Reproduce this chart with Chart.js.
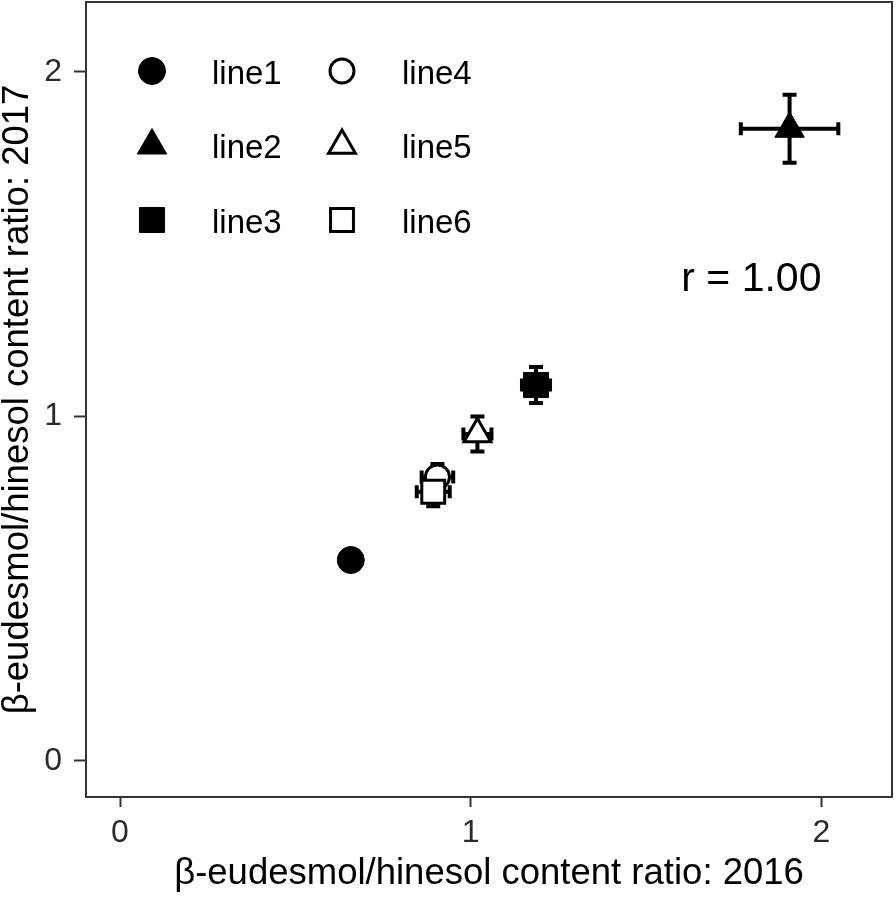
<!DOCTYPE html>
<html>
<head>
<meta charset="utf-8">
<script src="https://cdn.jsdelivr.net/npm/chart.js@4.4.0/dist/chart.umd.min.js"></script>
<style>
    html, body { margin: 0; padding: 0; background: #fff; }
    #wrap { width: 896px; height: 897px; position: relative; }
</style>
</head>
<body>
<div id="wrap"><canvas id="ratioChart"></canvas></div>
<script>
// values (mean +/- error)
const lineNames = ['line1', 'line2', 'line3', 'line4', 'line5', 'line6'];
const ratio2016 = [0.658, 1.909, 1.186, 0.905, 1.019, 0.893];
const ratio2016Err = [0.02, 0.139, 0.04, 0.045, 0.04, 0.047];
const ratio2017 = [0.583, 1.835, 1.091, 0.824, 0.949, 0.781];
const ratio2017Err = [0.02, 0.099, 0.052, 0.038, 0.051, 0.042];
const pointShapes = ['circle', 'triangle', 'rect', 'circle', 'triangle', 'rect'];
const filledShapes = [true, true, true, false, false, false];
const xTickValues = [0, 1, 2];
const yTickValues = [0, 1, 2];
const corrLabel = 'r = 1.00';
const corrAt = [1.80, 1.396];
const xTitle = 'β-eudesmol/hinesol content ratio: 2016';
const yTitle = 'β-eudesmol/hinesol content ratio: 2017';

const FONT = "'Liberation Sans', Arial, sans-serif";
const shapeRadius = { circle: 13.5, triangle: 17, rect: 17.7 };

Chart.defaults.font.family = FONT;
Chart.defaults.font.size = 32;

function radiusFor(i) {
    const r = shapeRadius[pointShapes[i]];
    return filledShapes[i] ? r : r - 1.5;
}

function drawMarker(ctx, i, x, y) {
    ctx.save();
    ctx.fillStyle = filledShapes[i] ? '#000' : '#fff';
    ctx.strokeStyle = '#000';
    ctx.lineWidth = filledShapes[i] ? 1 : 3;
    Chart.helpers.drawPoint(ctx, {
        pointStyle: pointShapes[i],
        radius: radiusFor(i),
        rotation: 0,
        borderWidth: ctx.lineWidth
    }, x, y);
    ctx.restore();
}

const errorBars = {
    id: 'errorBars',
    beforeDatasetsDraw(chart) {
        const { ctx, scales: { x, y } } = chart;
        ctx.save();
        ctx.strokeStyle = '#000';
        ctx.lineWidth = 4;
        lineNames.forEach((name, i) => {
            const cx = x.getPixelForValue(ratio2016[i]);
            const cy = y.getPixelForValue(ratio2017[i]);
            const xl = x.getPixelForValue(ratio2016[i] - ratio2016Err[i]);
            const xr = x.getPixelForValue(ratio2016[i] + ratio2016Err[i]);
            const yb = y.getPixelForValue(ratio2017[i] - ratio2017Err[i]);
            const yt = y.getPixelForValue(ratio2017[i] + ratio2017Err[i]);
            ctx.beginPath();
            ctx.moveTo(xl, cy); ctx.lineTo(xr, cy);
            ctx.moveTo(xl, cy - 6.5); ctx.lineTo(xl, cy + 6.5);
            ctx.moveTo(xr, cy - 6.5); ctx.lineTo(xr, cy + 6.5);
            ctx.moveTo(cx, yb); ctx.lineTo(cx, yt);
            ctx.moveTo(cx - 7, yt); ctx.lineTo(cx + 7, yt);
            ctx.moveTo(cx - 7, yb); ctx.lineTo(cx + 7, yb);
            ctx.stroke();
        });
        ctx.restore();
    }
};

const panelExtras = {
    id: 'panelExtras',
    beforeDraw(chart) {
        const { ctx } = chart;
        ctx.save();
        ctx.fillStyle = '#fff';
        ctx.fillRect(0, 0, chart.width, chart.height);
        ctx.restore();
    },
    afterDraw(chart) {
        const { ctx, chartArea: area, scales: { x, y } } = chart;
        ctx.save();
        ctx.strokeStyle = '#333';
        ctx.lineWidth = 2;
        ctx.strokeRect(area.left, area.top, area.right - area.left, area.bottom - area.top);

        // legend, two columns inside the panel
        ctx.font = '33px ' + FONT;
        ctx.fillStyle = '#000';
        ctx.textAlign = 'left';
        ctx.textBaseline = 'alphabetic';
        lineNames.forEach((name, i) => {
            const col = Math.floor(i / 3);
            const row = i % 3;
            const mx = area.left + 66 + col * 190;
            const my = area.top + 69 + row * 74.5;
            drawMarker(ctx, i, mx, my);
            ctx.fillText(name, mx + 60, my + 12.5);
        });

        ctx.font = '41px ' + FONT;
        ctx.textAlign = 'center';
        ctx.textBaseline = 'middle';
        ctx.fillText(corrLabel, x.getPixelForValue(corrAt[0]), y.getPixelForValue(corrAt[1]));
        ctx.restore();
    }
};

const ctx = document.getElementById('ratioChart').getContext('2d');
new Chart(ctx, {
    type: 'scatter',
    data: {
        datasets: lineNames.map((name, i) => ({
            label: name,
            data: [{ x: ratio2016[i], y: ratio2017[i] }],
            pointStyle: pointShapes[i],
            pointRadius: radiusFor(i),
            pointHoverRadius: radiusFor(i),
            backgroundColor: filledShapes[i] ? '#000' : '#fff',
            borderColor: '#000',
            borderWidth: filledShapes[i] ? 1 : 3,
            order: lineNames.length - i
        }))
    },
    options: {
        responsive: true,
        maintainAspectRatio: false,
        animation: false,
        layout: { autoPadding: false, padding: { top: 2, right: 4, left: 0, bottom: 0 } },
        plugins: {
            legend: { display: false },
            tooltip: { enabled: false }
        },
        scales: {
            x: {
                type: 'linear',
                min: -0.097,
                max: 2.201,
                afterBuildTicks: (scale) => { scale.ticks = xTickValues.map(v => ({ value: v })); },
                afterFit: (scale) => {
                    scale.height = 100;
                    scale.paddingLeft = 0;
                    scale.paddingRight = 0;
                },
                grid: { drawOnChartArea: false, drawTicks: true, tickLength: 10, tickWidth: 2, tickColor: '#333' },
                border: { display: false },
                ticks: {
                    color: '#2b2b2b',
                    padding: 7,
                    font: { family: FONT, size: 32 },
                    callback: (v) => String(v)
                },
                title: {
                    display: true,
                    text: xTitle,
                    color: '#000',
                    padding: { top: 0, bottom: 5 },
                    font: { family: FONT, size: 36.5, lineHeight: 1 }
                }
            },
            y: {
                type: 'linear',
                min: -0.105,
                max: 2.203,
                afterBuildTicks: (scale) => { scale.ticks = yTickValues.map(v => ({ value: v })); },
                afterFit: (scale) => {
                    scale.width = 86;
                    scale.paddingTop = 0;
                    scale.paddingBottom = 0;
                },
                grid: { drawOnChartArea: false, drawTicks: true, tickLength: 12, tickWidth: 2, tickColor: '#333' },
                border: { display: false },
                ticks: {
                    color: '#2b2b2b',
                    padding: 12,
                    font: { family: FONT, size: 32 },
                    callback: (v) => String(v)
                },
                title: {
                    display: true,
                    text: yTitle,
                    color: '#000',
                    padding: { top: 0, bottom: 0 },
                    font: { family: FONT, size: 36.5, lineHeight: 1 }
                }
            }
        }
    },
    plugins: [errorBars, panelExtras]
});
</script>
</body>
</html>
